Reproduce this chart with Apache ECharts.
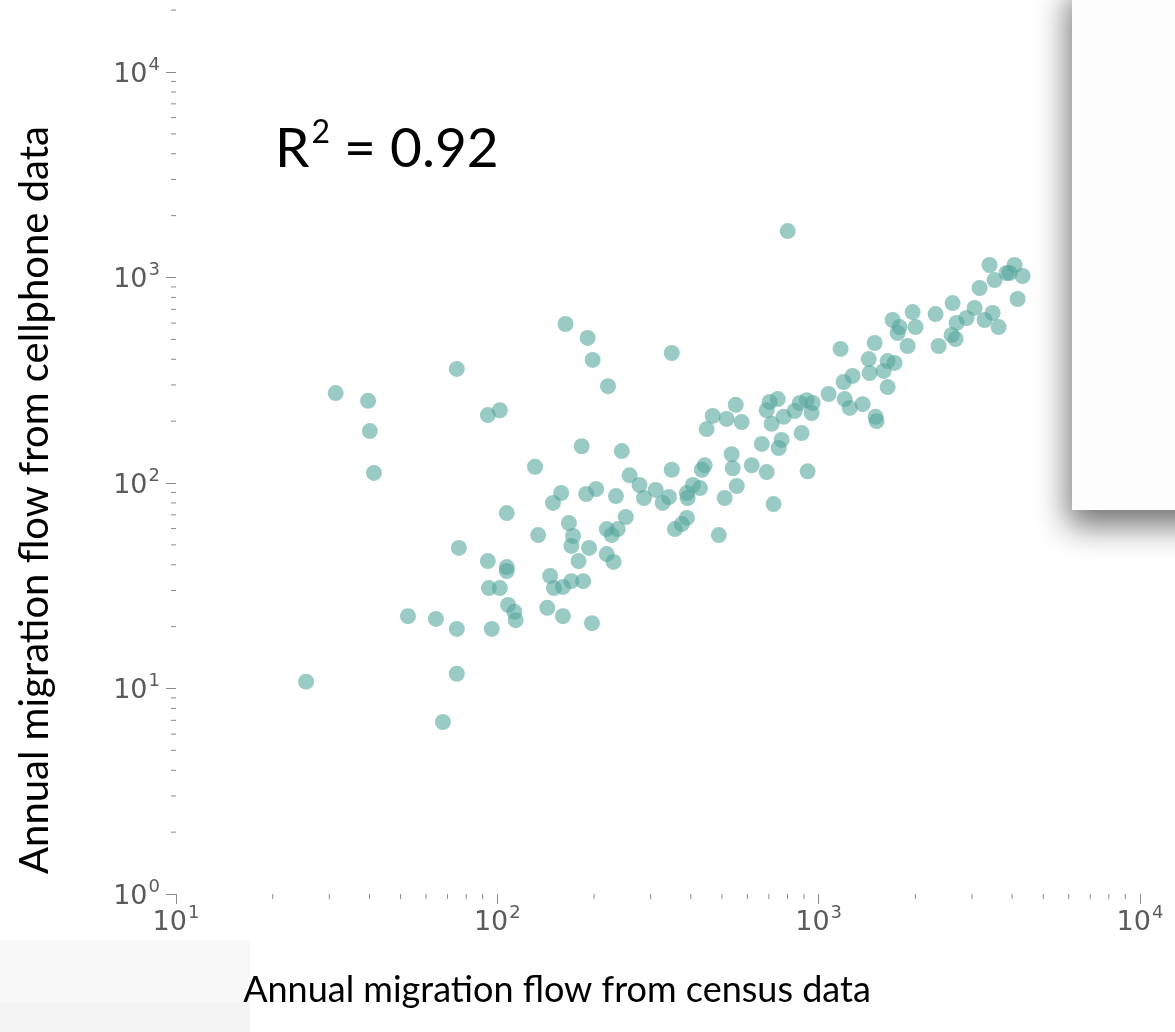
<!DOCTYPE html>
<html>
<head>
<meta charset="utf-8">
<script src="https://cdn.jsdelivr.net/npm/echarts@6/dist/echarts.min.js"></script>
<style>
  html, body { margin: 0; padding: 0; background: #fff; }
  #chart { width: 1175px; height: 1032px; }
</style>
</head>
<body>
<div id="chart"></div>
<script>
// flows (census on x, cellphone on y)
const censusFlow = [
  31.4, 39.6, 40.1, 41.3, 74.8, 93.4, 101.8, 163, 191, 198, 221, 131, 183, 244, 258, 349, 801,
  3402, 4070, 3844, 4310, 3527, 4159, 3168, 2611, 3057, 2311, 2886, 3477, 3283, 3630, 2687, 2593,
  2668, 2362, 1961, 1699, 1786, 1761, 2003, 1892, 1494, 1170, 1431, 1639, 1723, 1593, 1441, 1639,
  1275, 1196, 1074, 1205, 1249, 1371, 1504, 1515, 918, 958, 873, 951, 842, 704, 746, 689, 778,
  714, 885, 552, 468, 517, 576, 448, 665, 767, 751, 536, 349, 442, 433, 540, 619, 689, 924,
  556, 510, 724, 406, 389, 427, 391, 342, 327, 389, 357, 375, 489,
  107, 75.9, 134, 93.4, 107, 107, 94.1, 101.8, 108, 113, 114, 96.1, 52.7, 64.4, 74.8, 74.8, 67.7, 25.4,
  158, 149, 189, 203, 234, 277, 286, 311, 167, 172, 170, 193, 179, 251, 219, 237, 227, 219, 230,
  146, 150, 160, 170, 185, 143, 160, 197, 3926
];
const phoneFlow = [
  274, 251, 179, 112, 359, 214, 226, 594, 508, 397, 296, 120, 151, 143, 109, 429, 1683,
  1150, 1150, 1052, 1017, 972, 786, 889, 751, 711, 664, 635, 672, 621, 574, 601, 525,
  502, 464, 679, 621, 574, 537, 574, 464, 480, 449, 401, 392, 384, 351, 343, 293,
  332, 310, 271, 256, 232, 242, 210, 200, 253, 245, 245, 219, 224, 248, 256, 226, 210,
  194, 175, 240, 212, 205, 198, 183, 155, 162, 148, 138, 116, 122, 116, 118, 122, 113, 114,
  96.7, 84.5, 79, 97.8, 89.4, 94.5, 84.5, 85.5, 80, 67.6, 59.7, 63.1, 55.8,
  71.4, 48.3, 55.8, 41.7, 39.0, 37.3, 30.8, 30.8, 25.5, 23.6, 21.5, 19.5, 22.5, 21.8, 19.5, 11.8, 6.87, 10.8,
  89.4, 80, 88.4, 93.5, 86.4, 97.8, 84.5, 92.5, 63.9, 55.2, 49.4, 48.3, 41.7, 68.3, 59.7, 59.7, 55.8, 45.1, 41.3,
  35.3, 30.8, 31.2, 33.3, 33.3, 24.7, 22.5, 20.8, 1052
];
const rSquared = '0.92';
const xName = 'Annual migration flow from census data';
const yName = 'Annual migration flow from cellphone data';
// minor ticks (2..9 times each decade)
const minorX = [20, 30, 40, 50, 60, 70, 80, 90, 200, 300, 400, 500, 600, 700, 800, 900,
  2000, 3000, 4000, 5000, 6000, 7000, 8000, 9000];
const minorY = [2, 3, 4, 5, 6, 7, 8, 9, 20, 30, 40, 50, 60, 70, 80, 90, 200, 300, 400, 500, 600, 700, 800, 900,
  2000, 3000, 4000, 5000, 6000, 7000, 8000, 9000, 20000];

const points = censusFlow.map((v, i) => [v, phoneFlow[i]]);

const chart = echarts.init(document.getElementById('chart'), null, { renderer: 'canvas' });

const tickColor = '#8a8a8a';
const labelRich = {
  b: { fontFamily: 'DejaVu Sans', fontSize: 27, color: '#5a5a5a', lineHeight: 32, verticalAlign: 'bottom' },
  s: { fontFamily: 'DejaVu Sans', fontSize: 18, color: '#5a5a5a', lineHeight: 32, verticalAlign: 'top', padding: [0, 0, 0, 1] }
};
function powLabel(value) {
  return '{b|10}{s|' + Math.round(Math.log10(value)) + '}';
}

const option = {
  animation: false,
  backgroundColor: '#fff',
  grid: { left: 176, right: 35, top: 72, bottom: 138 },
  xAxis: {
    type: 'log', logBase: 10, min: 10, max: 10000,
    axisLine: { show: false },
    splitLine: { show: false },
    axisTick: { show: true, length: 10, lineStyle: { color: tickColor, width: 1 } },
    axisLabel: { margin: 10, formatter: powLabel, rich: labelRich }
  },
  yAxis: {
    type: 'log', logBase: 10, min: 1, max: 10000,
    axisLine: { show: false },
    splitLine: { show: false },
    axisTick: { show: true, length: 10, lineStyle: { color: tickColor, width: 1 } },
    axisLabel: { margin: 16, formatter: powLabel, rich: labelRich }
  },
  series: [
    {
      type: 'scatter',
      data: points,
      symbolSize: 16,
      itemStyle: { color: 'rgba(85,166,156,0.74)' },
      silent: true
    },
    {
      type: 'custom',
      silent: true,
      clip: false,
      data: minorX.map(v => [v, 1]),
      renderItem: function (params, api) {
        const p = api.coord([api.value(0), api.value(1)]);
        return {
          type: 'line',
          shape: { x1: p[0], y1: p[1], x2: p[0], y2: p[1] + 5 },
          style: { stroke: tickColor, lineWidth: 1 }
        };
      }
    },
    {
      type: 'custom',
      silent: true,
      clip: false,
      data: minorY.map(v => [10, v]),
      renderItem: function (params, api) {
        const p = api.coord([api.value(0), api.value(1)]);
        return {
          type: 'line',
          shape: { x1: p[0] - 5, y1: p[1], x2: p[0], y2: p[1] },
          style: { stroke: tickColor, lineWidth: 1 }
        };
      }
    }
  ],
  graphic: [
    {
      type: 'rect', left: 0, top: 940, z: 1,
      shape: { width: 250, height: 62 },
      style: { fill: '#f8f8f8' }
    },
    {
      type: 'rect', left: 0, top: 1002, z: 1,
      shape: { width: 250, height: 30 },
      style: { fill: '#f3f3f3' }
    },
    {
      type: 'rect', z: 100,
      shape: { x: 1072, y: -20, width: 140, height: 530 },
      style: {
        fill: '#fdfdfd',
        shadowBlur: 30, shadowColor: 'rgba(0,0,0,0.55)',
        shadowOffsetX: -4, shadowOffsetY: 16
      }
    },
    {
      type: 'text', x: 275, y: 145, z: 50,
      style: {
        text: '{a|R}{s|2}{a| = ' + rSquared + '}',
        verticalAlign: 'middle',
        rich: {
          a: { fontFamily: 'Lato', fontSize: 55, fill: '#000', lineHeight: 64, verticalAlign: 'bottom' },
          s: { fontFamily: 'Lato', fontSize: 32, fill: '#000', lineHeight: 64, verticalAlign: 'top', padding: [4, 0, 0, 2] }
        }
      }
    },
    {
      type: 'text', x: 557, y: 990, z: 50,
      style: { text: xName, fontFamily: 'Lato', fontSize: 36, fill: '#000', align: 'center', verticalAlign: 'middle' }
    },
    {
      type: 'text', x: 35, y: 500, rotation: Math.PI / 2, z: 50,
      style: { text: yName, fontFamily: 'Lato', fontSize: 40, fill: '#000', align: 'center', verticalAlign: 'middle' }
    }
  ]
};

chart.setOption(option);
</script>
</body>
</html>
